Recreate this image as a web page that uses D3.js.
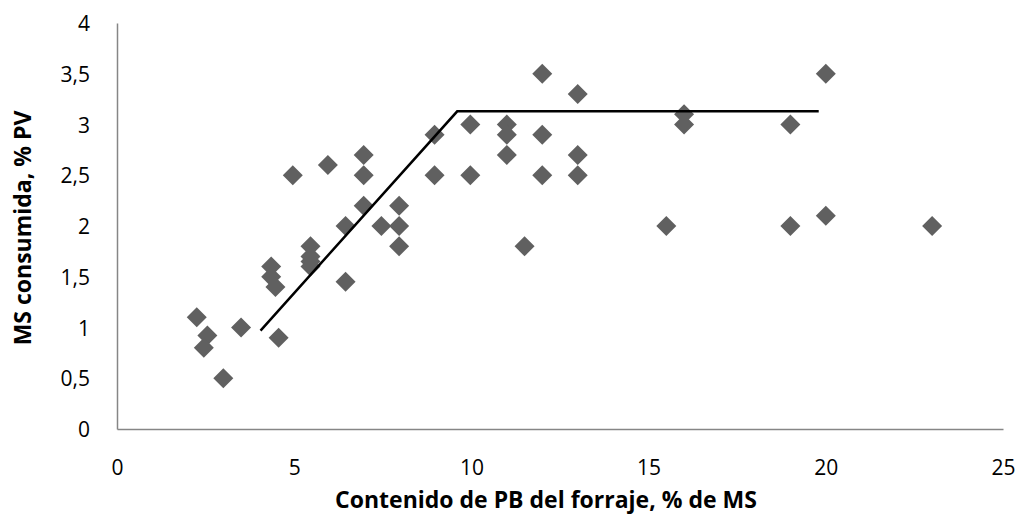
<!DOCTYPE html>
<html><head><meta charset="utf-8">
<script src="https://cdn.jsdelivr.net/npm/d3@7"></script>
<style>body{margin:0;background:#fff}svg{display:block}</style>
</head><body>
<svg id="c" width="1019" height="516"></svg>
<script>
const xValues = [2.25,2.55,2.45,3,3.5,4.35,4.35,4.47,4.56,4.96,5.46,5.46,5.46,5.46,5.95,6.45,6.45,6.96,6.96,6.96,7.46,7.96,7.96,7.96,8.96,8.96,9.97,9.97,11,11,11,11.5,12,12,12,13,13,13,15.5,16,16,19,19,20,20,23];
const yValues = [1.1,0.92,0.8,0.5,1.0,1.6,1.5,1.4,0.9,2.5,1.8,1.7,1.65,1.6,2.6,2.0,1.45,2.7,2.5,2.2,2.0,2.2,2.0,1.8,2.9,2.5,3.0,2.5,3.0,2.9,2.7,1.8,3.5,2.9,2.5,3.3,2.7,2.5,2.0,3.1,3.0,3.0,2.0,3.5,2.1,2.0];
const lineX = [4.05,9.6,19.8];
const lineY = [0.97,3.13,3.13];
const xTicks = [0,5,10,15,20,25];
const yTicks = [0,0.5,1,1.5,2,2.5,3,3.5,4];
const xTitle = "Contenido de PB del forraje, % de MS";
const yTitle = "MS consumida, % PV";

const svg = d3.select("#c");
const x = d3.scaleLinear().domain([0,25]).range([117,1003]);
const y = d3.scaleLinear().domain([0,4]).range([429,23]);
const font = "'Open Sans', sans-serif";
const fmt = d => String(d).replace(".", ",");

const xAxis = d3.axisBottom(x).tickValues(xTicks).tickSize(0).tickPadding(0).tickFormat(fmt);
const yAxis = d3.axisLeft(y).tickValues(yTicks).tickSize(0).tickPadding(0).tickFormat(fmt);
const gx = svg.append("g").attr("transform", `translate(0,${y(0)})`).call(xAxis);
const gy = svg.append("g").attr("transform", `translate(${x(0)},0)`).call(yAxis);
[gx, gy].forEach(g => {
  g.select(".domain").attr("stroke", "#868686").attr("stroke-width", 1.5);
  g.selectAll("text").attr("font-family", font).attr("font-size", 21).attr("fill", "#000");
});
gx.selectAll("text").attr("dy", null).attr("y", 46);
gy.selectAll("text").attr("x", -27).attr("dy", "0.36em");

const sym = d3.symbol().type(d3.symbolSquare).size(200);
svg.append("g").selectAll("path").data(xValues.map((v,i)=>[v,yValues[i]])).join("path")
  .attr("d", sym)
  .attr("transform", d => `translate(${x(d[0])},${y(d[1])}) rotate(45)`)
  .attr("fill", "#606060");

const line = d3.line().x(d=>x(d[0])).y(d=>y(d[1]));
svg.append("path").datum(lineX.map((v,i)=>[v,lineY[i]]))
  .attr("d", line).attr("fill","none").attr("stroke","#000").attr("stroke-width",2.5);

svg.append("text").attr("x", 546).attr("y", 508).attr("text-anchor","middle")
  .attr("font-family", font).attr("font-weight","bold").attr("font-size",23).text(xTitle);
svg.append("text").attr("transform","translate(31,228) rotate(-90)").attr("text-anchor","middle")
  .attr("font-family", font).attr("font-weight","bold").attr("font-size",23).text(yTitle);
</script>
</body></html>
